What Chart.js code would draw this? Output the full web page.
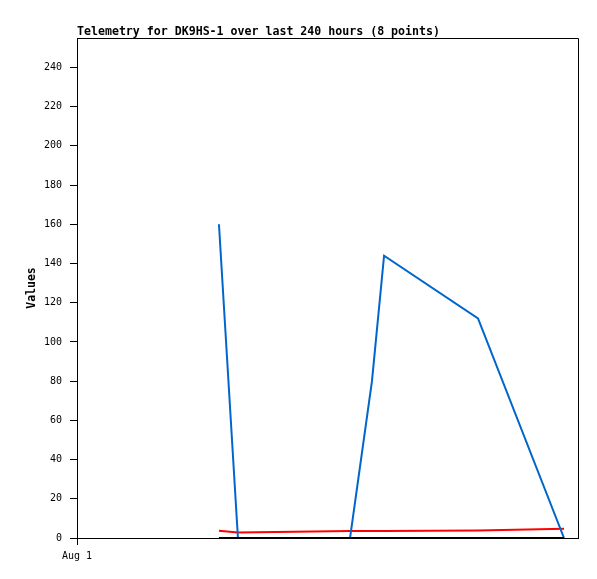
<!DOCTYPE html>
<html>
<head>
<meta charset="utf-8">
<script src="https://cdn.jsdelivr.net/npm/chart.js@4/dist/chart.umd.min.js"></script>
<style>
  html, body { margin: 0; padding: 0; background: #fff; }
  #wrap { width: 597px; height: 579px; }
</style>
</head>
<body>
<div id="wrap"><canvas id="c" width="597" height="579"></canvas></div>
<script>
// Hours since start of the 240-hour window (x positions of samples)
const hours = [68.0, 77.1, 130.8, 141.3, 147.1, 192.1, 233.3];
// Series values
const blueValues  = [160, 0, 0, 80, 144, 112, 0];
const redValues   = [3.7, 2.8, 3.6, 3.6, 3.6, 3.8, 4.7];
const blackValues = [0, 0, 0, 0, 0, 0, 0];
// Axis labels
const xTickLabels = ["Aug 1"];
const yTickValues = [0, 20, 40, 60, 80, 100, 120, 140, 160, 180, 200, 220, 240];
const titleText = "Telemetry for DK9HS-1 over last 240 hours (8 points)";
const yTitle = "Values";

const toPts = vals => vals.map((v, i) => ({ x: hours[i], y: v }));

const framePlugin = {
  id: 'frame',
  afterDraw(chart) {
    const { ctx, chartArea: a } = chart;
    ctx.save();
    ctx.strokeStyle = '#000';
    ctx.lineWidth = 1;
    ctx.beginPath();
    ctx.moveTo(Math.round(a.left) + 0.5, Math.round(a.top) + 0.5);
    ctx.lineTo(Math.round(a.right) + 0.5, Math.round(a.top) + 0.5);
    ctx.lineTo(Math.round(a.right) + 0.5, Math.round(a.bottom) + 0.5);
    ctx.stroke();
    ctx.fillStyle = '#000';
    ctx.font = 'bold 11.6px "DejaVu Sans Mono", monospace';
    ctx.textAlign = 'left';
    ctx.textBaseline = 'alphabetic';
    ctx.fillText(titleText, a.left, 35);
    ctx.restore();
  }
};

new Chart(document.getElementById('c'), {
  type: 'line',
  data: {
    datasets: [
      { data: toPts(blackValues), borderColor: '#000000', borderWidth: 2, pointRadius: 0, order: 0, tension: 0 },
      { data: toPts(blueValues), borderColor: '#0066cc', borderWidth: 2, pointRadius: 0, order: 1, tension: 0 },
      { data: toPts(redValues), borderColor: '#ff0000', borderWidth: 2, pointRadius: 0, order: 2, tension: 0 }
    ]
  },
  plugins: [framePlugin],
  options: {
    responsive: false,
    animation: false,
    devicePixelRatio: 1,
    layout: { padding: { top: 38, right: 19, left: 0, bottom: 0 } },
    plugins: { legend: { display: false }, tooltip: { enabled: false }, title: { display: false } },
    scales: {
      x: {
        type: 'linear',
        min: 0,
        max: 240,
        afterBuildTicks(scale) { scale.ticks = [{ value: 0 }]; },
        afterFit(scale) { scale.height = 41; },
        ticks: {
          color: '#000',
          font: { family: '"DejaVu Sans Mono", monospace', size: 10 },
          padding: 5,
          maxRotation: 0,
          autoSkip: false,
          callback: (v, i) => xTickLabels[i]
        },
        grid: { drawOnChartArea: false, drawTicks: true, tickLength: 7, color: '#000' },
        border: { display: true, color: '#000', width: 1 }
      },
      y: {
        type: 'linear',
        min: 0,
        max: 255,
        afterBuildTicks(scale) { scale.ticks = yTickValues.map(v => ({ value: v })); },
        afterFit(scale) { scale.width = 77; },
        ticks: {
          color: '#000',
          font: { family: '"DejaVu Sans Mono", monospace', size: 10 },
          padding: 8,
          autoSkip: false
        },
        grid: { drawOnChartArea: false, drawTicks: true, tickLength: 7, color: '#000' },
        border: { display: true, color: '#000', width: 1 },
        title: {
          display: true,
          text: yTitle,
          color: '#000',
          font: { family: '"DejaVu Sans Mono", monospace', size: 11.5, weight: 'bold' },
          padding: { top: 25, bottom: 0 }
        }
      }
    }
  }
});
</script>
</body>
</html>
